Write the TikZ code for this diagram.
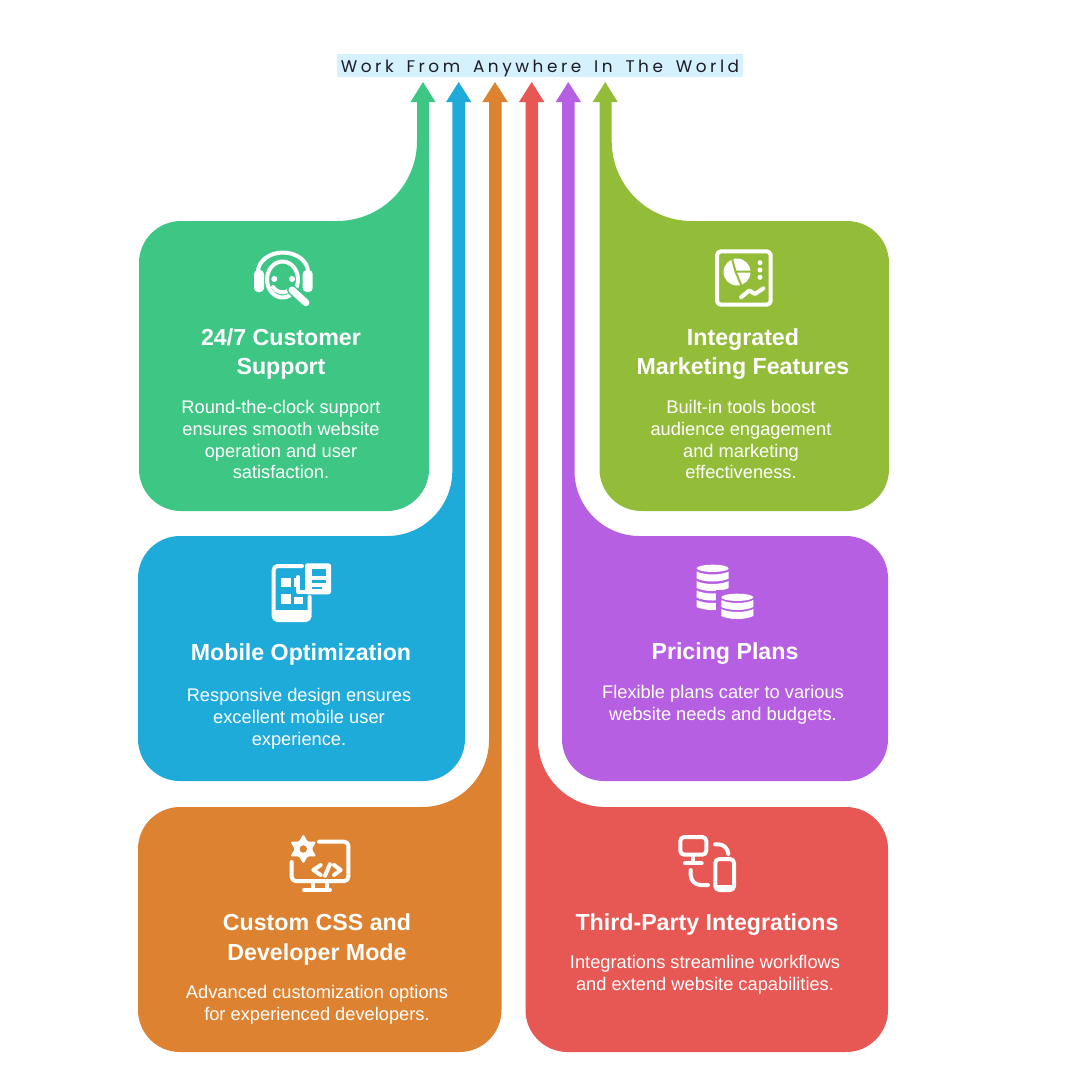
\documentclass[tikz,border=0pt]{standalone}
\usepackage{fontspec}
\setmainfont{Liberation Sans}
\newfontfamily\titlefont[LetterSpace=21,WordSpace=1.6]{Poppins}
\definecolor{supportgreen}{HTML}{3EC685}
\definecolor{mobileblue}{HTML}{1EABDA}
\definecolor{cssorange}{HTML}{DD8230}
\definecolor{thirdred}{HTML}{E75753}
\definecolor{pricepurple}{HTML}{B75FE3}
\definecolor{marketlime}{HTML}{93BC39}
\definecolor{titlebg}{HTML}{D5F1FD}
\definecolor{titleink}{HTML}{1C1C24}
\tikzset{
  heading/.style={text=white, align=center, font=\fontsize{13.2}{16.8}\selectfont\bfseries},
  blurb/.style={text=white, align=center, font=\fontsize{10.4}{12.5}\selectfont},
  icon/.style={draw=white, line width=0.08cm, line cap=round, line join=round}
}

\begin{document}
\begin{tikzpicture}[x=0.02cm, y=-0.02cm]
\useasboundingbox (0,0) rectangle (1080,1080);

\node (title) at (540,65.5) [fill=titlebg, inner sep=0pt, minimum width=8.12cm, minimum height=0.46cm, text height=0.322cm, text depth=0.05cm, text=titleink, font=\fontsize{9.6}{11}\selectfont\titlefont] {Work From Anywhere In The World};

\fill [supportgreen] (423,82) -- (435.5,102) -- (429,102) [rounded corners=0.84cm] -- (429,511) -- (139,511) -- (139,221) -- (280,221) [rounded corners=1.6cm] -- (417,221) [sharp corners] -- (417,102) -- (410.5,102) -- cycle;
\fill [mobileblue] (458.7,82) -- (471.3,102) -- (465,102) [rounded corners=0.84cm] -- (465,781) -- (138,781) -- (138,536) -- (300,536) [rounded corners=1.3cm] -- (452.3,536) [sharp corners] -- (452.3,102) -- (446,102) -- cycle;
\fill [cssorange] (495,82) -- (507.7,102) -- (501.5,102) [rounded corners=0.84cm] -- (501.5,1052) -- (138,1052) -- (138,807) -- (300,807) [rounded corners=1.34cm] -- (489,807) [sharp corners] -- (489,102) -- (482.3,102) -- cycle;
\fill [thirdred] (531.7,82) -- (544.3,102) -- (538,102) [rounded corners=1.34cm] -- (538,807) -- (700,807) [rounded corners=0.84cm] -- (888,807) -- (888,1052) -- (525.5,1052) [sharp corners] -- (525.5,102) -- (519,102) -- cycle;
\fill [pricepurple] (568.3,82) -- (581,102) -- (574.5,102) [rounded corners=1.3cm] -- (574.5,536) -- (720,536) [rounded corners=0.84cm] -- (888,536) -- (888,781) -- (562,781) [sharp corners] -- (562,102) -- (555.7,102) -- cycle;
\fill [marketlime] (605.2,82) -- (617.7,102) -- (611.7,102) [rounded corners=1.6cm] -- (611.7,221) -- (760,221) [rounded corners=0.84cm] -- (889,221) -- (889,511) -- (599.5,511) [sharp corners] -- (599.5,102) -- (592.7,102) -- cycle;

\node (supporthead) at (281,354) [heading] {24/7 Customer\\Support};
\node (supporttext) at (281,439.5) [blurb] {Round-the-clock support\\ensures smooth website\\operation and user\\satisfaction.};
\node (mobilehead) at (301,654) [heading] {Mobile Optimization};
\node (mobiletext) at (299,719) [blurb] {Responsive design ensures\\excellent mobile user\\experience.};
\node (csshead) at (317,939.5) [heading] {Custom CSS and\\Developer Mode};
\node (csstext) at (317,1005) [blurb] {Advanced customization options\\for experienced developers.};
\node (thirdhead) at (707,924.5) [heading] {Third-Party Integrations};
\node (thirdtext) at (705,975) [blurb] {Integrations streamline workflows\\and extend website capabilities.};
\node (pricehead) at (725,654) [heading] {Pricing Plans};
\node (pricetext) at (723,705) [blurb] {Flexible plans cater to various\\website needs and budgets.};
\node (markethead) at (743,354) [heading] {Integrated\\Marketing Features};
\node (markettext) at (741,439.5) [blurb] {Built-in tools boost\\audience engagement\\and marketing\\effectiveness.};

% headset
\draw [icon] (282.5,279.5) ellipse [x radius=15.5, y radius=18];
\draw [icon] (258,272) arc [start angle=180, end angle=360, x radius=25, y radius=19.5];
\fill [white, rounded corners=0.08cm] (254,270) rectangle (264,292);
\fill [white, rounded corners=0.08cm] (302.7,270) rectangle (312.7,292);
\fill [white] (274.3,279) circle [radius=3] (292,279) circle [radius=3];
\draw [icon] (273,287) .. controls (276,292) and (283,294) .. (288,291);
\draw [supportgreen, line width=0.2cm, line cap=round] (292,290) -- (306,302.7);
\draw [white, line width=0.14cm, line cap=round] (292,290) -- (306,302.7);

% chart panel
\draw [icon, rounded corners=0.08cm] (717,251.3) rectangle (770.7,304.7);
\fill [white] (737,272) circle [radius=13.5];
\draw [marketlime, line width=0.04cm] (735.5,271.5) -- (731,255) (735.5,271.5) -- (752,271.5) (735.5,271.5) -- (742,287);
\fill [white] (760,262.7) circle [radius=2.5] (760,270) circle [radius=2.5] (760,277.3) circle [radius=2.5];
\draw [icon] (741,297.3) -- (749.3,290.5) -- (755,294) -- (763.3,288.3);

% phone and card
\draw [icon, rounded corners=0.08cm] (302,566) -- (273.7,566) -- (273.7,620) -- (309.7,620) -- (309.7,597);
\fill [white] (273.7,610) rectangle (309.7,620);
\fill [white] (280.7,577.7) rectangle (290.7,586.7);
\fill [white] (280.7,594.3) rectangle (290.7,604.3);
\fill [white] (294,596.7) rectangle (303.3,604.3);
\fill [white] (294,577.7) rectangle (296,586.7);
\draw [icon] (298,577) -- (298,592) -- (305,592);
\fill [white, rounded corners=0.05cm] (305,563.3) rectangle (331,594.3);
\fill [mobileblue] (311.7,569) rectangle (326,575.7);
\fill [mobileblue] (311.7,580) rectangle (326,583);
\fill [mobileblue] (311.7,586.7) rectangle (321.7,589);

% coins
\fill [white] (712.7,568.3) ellipse [x radius=16, y radius=3.6];
\foreach \cx/\cy in {712.7/571.5, 712.7/581, 712.7/590.5, 712.7/600}
  \fill [white] ({\cx-16},\cy) .. controls ({\cx-8},{\cy+4}) and ({\cx+8},{\cy+4}) .. ({\cx+16},\cy) -- ({\cx+16},{\cy+7}) .. controls ({\cx+8},{\cy+11}) and ({\cx-8},{\cy+11}) .. ({\cx-16},{\cy+7}) -- cycle;
\fill [pricepurple] (716,590) rectangle (730,614);
\fill [white] (737.3,597.3) ellipse [x radius=16, y radius=3.6];
\foreach \cx/\cy in {737.3/600, 737.3/609}
  \fill [white] ({\cx-16},\cy) .. controls ({\cx-8},{\cy+4}) and ({\cx+8},{\cy+4}) .. ({\cx+16},\cy) -- ({\cx+16},{\cy+7}) .. controls ({\cx+8},{\cy+11}) and ({\cx-8},{\cy+11}) .. ({\cx-16},{\cy+7}) -- cycle;

% gear and monitor
\draw [icon, rounded corners=0.08cm] (319,841.7) -- (348.3,841.7) -- (348.3,881) -- (291.7,881) -- (291.7,862);
\draw [icon] (313.3,881) -- (313.3,889) (326.7,881) -- (326.7,889) (304,890) -- (330,890);
\fill [white, shift={(303.3,849)}, rounded corners=0.03cm] (30:15) -- (60:8.5) -- (90:15) -- (120:8.5) -- (150:15) -- (180:8.5) -- (210:15) -- (240:8.5) -- (270:15) -- (300:8.5) -- (330:15) -- (0:8.5) -- cycle;
\fill [cssorange] (303.3,849) circle [radius=3.7];
\draw [icon] (320.7,865) -- (313.3,870) -- (320.7,875);
\draw [icon] (330,864.3) -- (325,875.7);
\draw [icon] (334,865) -- (340.7,870) -- (334,875);

% devices
\draw [icon, rounded corners=0.08cm] (680.3,837) rectangle (706.3,854.7);
\draw [icon] (693.3,856) -- (693.3,862) (685,863.3) -- (701.7,863.3);
\draw [icon, rounded corners=0.08cm] (715.3,859) rectangle (734,890);
\fill [white] (715.3,885) rectangle (734,890);
\draw [icon, rounded corners=0.2cm] (715,844.3) -- (728.3,844.3) -- (728.3,853);
\draw [icon, rounded corners=0.2cm] (690.7,870) -- (690.7,885) -- (708,885);
\end{tikzpicture}
\end{document}
